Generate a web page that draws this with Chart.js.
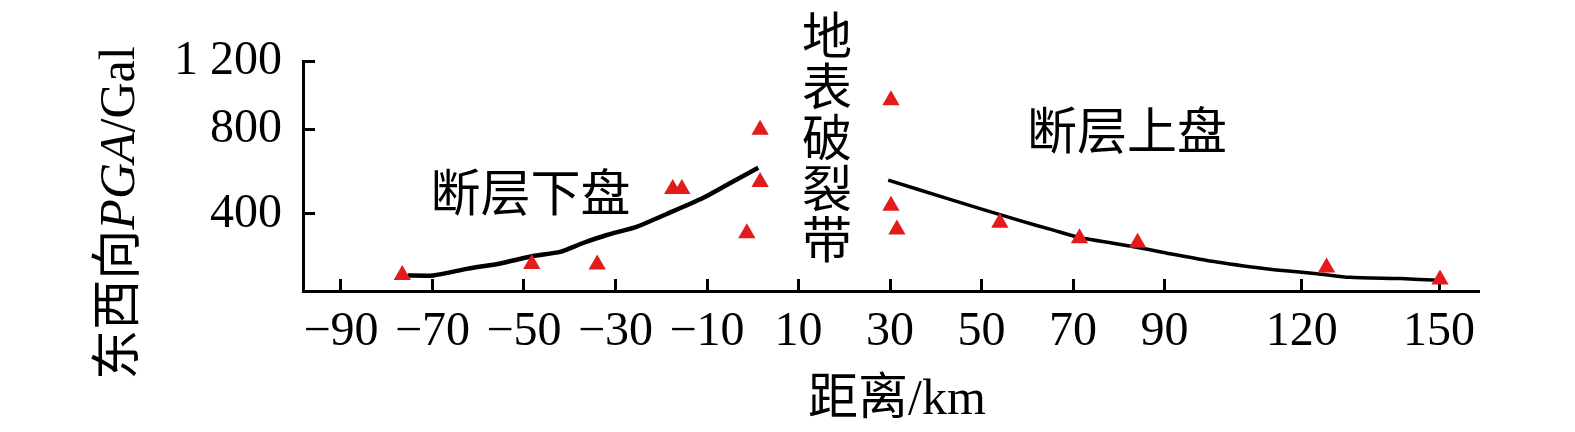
<!DOCTYPE html>
<html>
<head>
<meta charset="utf-8">
<script src="https://cdn.jsdelivr.net/npm/chart.js@4.4.0/dist/chart.umd.min.js"></script>
<style>
    html, body { margin: 0; padding: 0; background: #fff; }
    #wrap { width: 1575px; height: 432px; }
</style>
</head>
<body>
<div id="wrap"><canvas id="chart" width="1575" height="432"></canvas></div>
<script>
const xTicks = [-90, -70, -50, -30, -10, 10, 30, 50, 70, 90, 120, 150];
const yTicks = [400, 800, 1200];

// recorded stations: distance (km), EW PGA (Gal)
const stationDist = [-76.6, -48.3, -34.0, -17.5, -15.5, -1.3, 1.6, 1.6, 30.2, 30.2, 31.5, 54.0, 71.4, 84.1, 125.4, 150.2];
const stationPga = [110, 162, 160, 519, 519, 308, 800, 552, 974, 439, 326, 358, 285, 263, 146, 89];

// footwall curve
const footDist = [-75.4, -69.8, -62.5, -55.2, -48.0, -42.1, -37.1, -31.9, -25.4, -18.8, -10.8, -5.0, 1.2];
const footPga = [108, 108, 139, 165, 200, 220, 262, 300, 339, 400, 477, 546, 619];

// hanging wall curve
const hangDist = [29.6, 42.4, 58.4, 65.7, 71.4, 83.9, 91.2, 99.9, 110.9, 114.5, 123.3, 130.5, 141.5, 149.9];
const hangPga = [561, 474, 368, 323, 288, 242, 211, 177, 143, 134, 116, 99, 93, 85];

const SERIF = '"Liberation Serif", "Times New Roman", serif';
const CJK = '"Noto Sans CJK SC", sans-serif';

// the y axis of the original is squeezed above 800 Gal
const Y_BREAK = 800;
const Y_SQUEEZE = 0.807;

class SplitScale extends Chart.LinearScale {
    warp(v) {
        return v > Y_BREAK ? Y_BREAK + (v - Y_BREAK) * Y_SQUEEZE : v;
    }

    getPixelForValue(v) {
        const a = this.warp(this.min);
        const b = this.warp(this.max);
        return this.getPixelForDecimal((this.warp(v) - a) / (b - a));
    }

    getValueForPixel(p) {
        const a = this.warp(this.min);
        const b = this.warp(this.max);
        const u = a + this.getDecimalForPixel(p) * (b - a);
        return u > Y_BREAK ? Y_BREAK + (u - Y_BREAK) / Y_SQUEEZE : u;
    }
}
SplitScale.id = 'split';
SplitScale.defaults = Chart.LinearScale.defaults;
Chart.register(SplitScale);

const toPoints = (xs, ys) => xs.map((x, i) => ({ x, y: ys[i] }));

// draws a run of text pieces with their own fonts, centred on 0
function drawRuns(ctx, parts) {
    let total = 0;
    parts.forEach(([t, f]) => { ctx.font = f; total += ctx.measureText(t).width; });
    ctx.textAlign = 'left';
    ctx.textBaseline = 'alphabetic';
    let pos = -total / 2;
    parts.forEach(([t, f]) => {
        ctx.font = f;
        ctx.fillText(t, pos, 0);
        pos += ctx.measureText(t).width;
    });
}

const textLayer = {
    id: 'textLayer',
    afterDatasetsDraw(chart) {
        const { ctx, scales: { x, y } } = chart;
        ctx.save();
        ctx.fillStyle = '#000';
        ctx.textAlign = 'center';
        ctx.textBaseline = 'middle';
        ctx.font = `50px ${CJK}`;
        ctx.fillText('断层下盘', x.getPixelForValue(-48.6), y.getPixelForValue(502));
        ctx.fillText('断层上盘', x.getPixelForValue(81.8), y.getPixelForValue(800));

        const zx = x.getPixelForValue(16.2);
        const zy = y.getPixelForValue(281);
        [...'地表破裂带'].reverse().forEach((ch, i) => ctx.fillText(ch, zx, zy - i * 51));

        // x axis title
        ctx.save();
        ctx.translate(897, 414);
        drawRuns(ctx, [['距离', `50px ${CJK}`], ['/km', `50px ${SERIF}`]]);
        ctx.restore();

        // y axis title, rotated, with italic PGA
        ctx.translate(134, 213);
        ctx.rotate(-Math.PI / 2);
        drawRuns(ctx, [
            ['东西向', `50px ${CJK}`],
            ['PGA', `italic 50px ${SERIF}`],
            ['/Gal', `50px ${SERIF}`],
        ]);
        ctx.restore();
    }
};

new Chart(document.getElementById('chart').getContext('2d'), {
    type: 'line',
    data: {
        datasets: [
            {
                type: 'scatter',
                data: toPoints(stationDist, stationPga),
                pointStyle: 'triangle',
                pointRadius: 10,
                borderWidth: 0,
                backgroundColor: '#e31b1b',
                clip: false,
                order: 0,
            },
            {
                data: toPoints(footDist, footPga),
                borderColor: '#000',
                borderWidth: 4.5,
                pointRadius: 0,
                tension: 0.2,
                fill: false,
                clip: false,
                order: 1,
            },
            {
                data: toPoints(hangDist, hangPga),
                borderColor: '#000',
                borderWidth: 3.5,
                pointRadius: 0,
                tension: 0.2,
                fill: false,
                clip: false,
                order: 1,
            },
        ],
    },
    options: {
        responsive: false,
        animation: false,
        events: [],
        layout: { padding: { top: 55, right: 97, left: 0, bottom: 0 } },
        plugins: {
            legend: { display: false },
            tooltip: { enabled: false },
        },
        scales: {
            x: {
                type: 'linear',
                min: -98.3,
                max: 158.5,
                afterBuildTicks: (scale) => { scale.ticks = xTicks.map(value => ({ value })); },
                afterFit: (scale) => { scale.height = 141; },
                border: { display: true, color: '#000', width: 3 },
                grid: {
                    drawOnChartArea: false,
                    drawTicks: true,
                    tickLength: -12,
                    color: '#000',
                    lineWidth: 3,
                },
                ticks: {
                    color: '#000',
                    padding: 25,
                    maxRotation: 0,
                    autoSkip: false,
                    font: { family: SERIF, size: 48 },
                    callback: (v) => (v < 0 ? '\u2212' + Math.abs(v) : String(v)),
                },
            },
            y: {
                type: 'split',
                min: 34,
                max: 1200,
                afterBuildTicks: (scale) => { scale.ticks = yTicks.map(value => ({ value })); },
                afterFit: (scale) => { scale.width = 303; },
                border: { display: true, color: '#000', width: 3 },
                grid: {
                    drawOnChartArea: false,
                    drawTicks: true,
                    tickLength: -12,
                    color: '#000',
                    lineWidth: 3,
                },
                ticks: {
                    color: '#000',
                    padding: 33,
                    font: { family: SERIF, size: 48 },
                    callback: (v) => String(v).replace(/\B(?=(\d{3})+(?!\d))/g, ' '),
                },
            },
        },
    },
    plugins: [textLayer],
});
</script>
</body>
</html>
